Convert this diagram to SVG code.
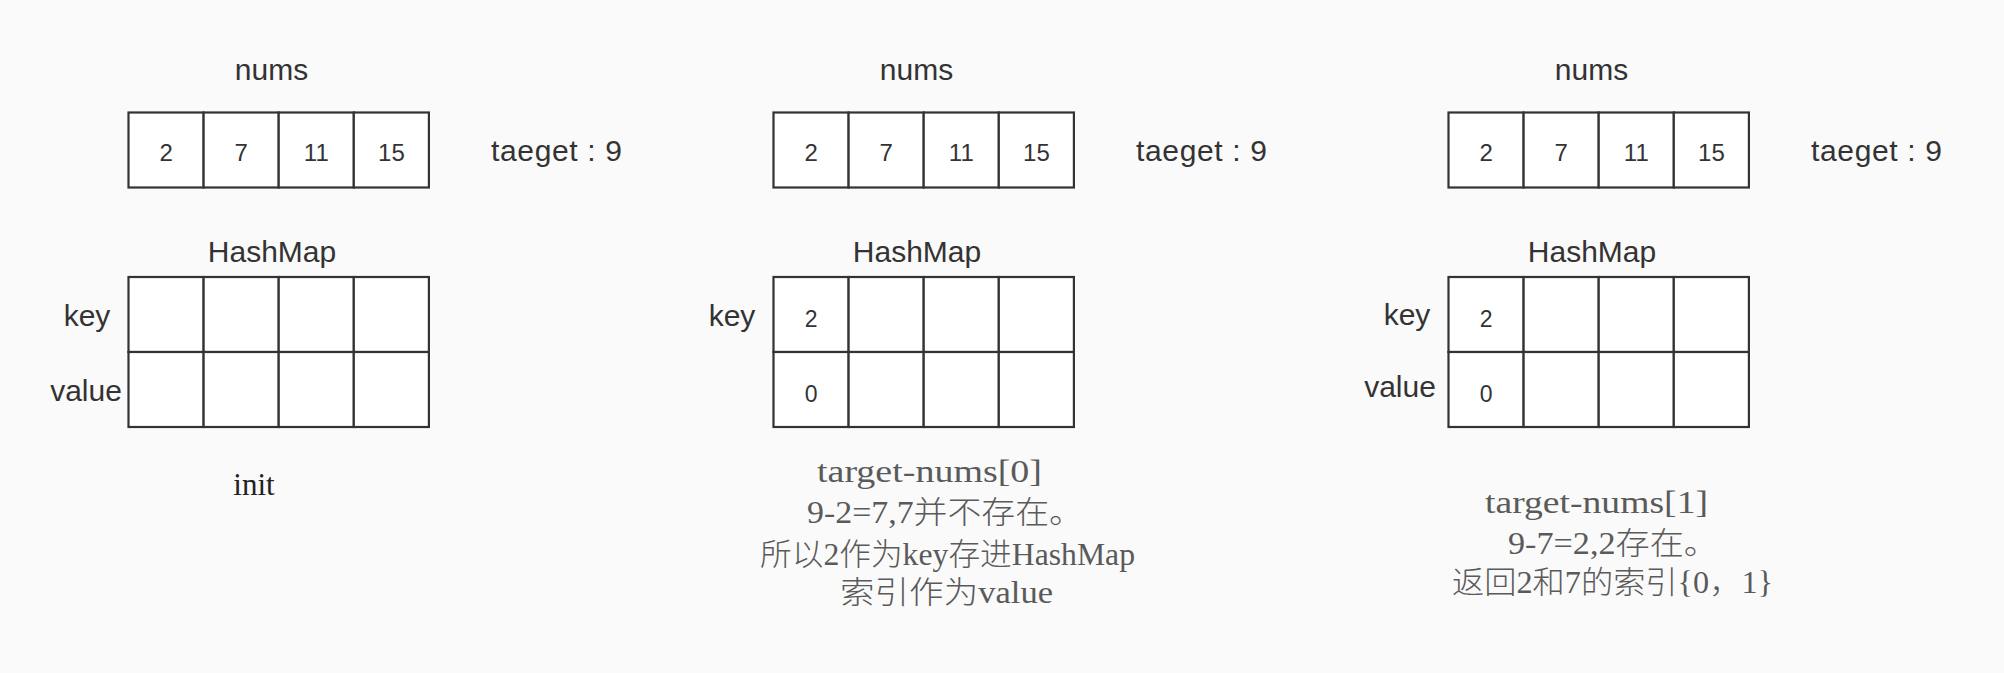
<svg xmlns="http://www.w3.org/2000/svg" width="2004" height="673" viewBox="0 0 2004 673">
<style>
.bg{fill:#fafafa}
.cell{fill:#ffffff;stroke:#333333;stroke-width:2.2}
.lbl{font-family:"Liberation Sans",Arial,sans-serif;font-size:30px;fill:#333333;text-anchor:middle}
.tg{font-family:"Liberation Sans",Arial,sans-serif;font-size:30px;fill:#333333}
.num{font-family:"Liberation Sans",Arial,sans-serif;font-size:24px;fill:#333333;text-anchor:middle}
.hm{font-family:"Liberation Sans",Arial,sans-serif;font-size:23px;fill:#333333;text-anchor:middle}
.note{font-family:"Liberation Serif","Noto Sans CJK SC",serif;font-size:31px;font-weight:300;fill:#5a5a5a}
.init{font-family:"Liberation Serif","Times New Roman",serif;font-size:31px;fill:#222222;text-anchor:middle}
</style>
<defs>
<g id="arr">
<rect class="cell" x="0" y="0" width="75.1" height="75"/>
<rect class="cell" x="75.1" y="0" width="75.1" height="75"/>
<rect class="cell" x="150.2" y="0" width="75.1" height="75"/>
<rect class="cell" x="225.3" y="0" width="75.1" height="75"/>
</g>
<g id="map">
<use href="#arr"/>
<use href="#arr" y="75"/>
</g>
</defs>
<rect class="bg" x="0" y="0" width="2004" height="673"/>
<g id="connectors"/>

<g id="panel-init">
<text class="lbl" x="271.5" y="80">nums</text>
<g id="nums-1" transform="translate(128.5,112.5)">
<use href="#arr"/>
<text class="num" x="37.6" y="48.5">2</text>
<text class="num" x="112.7" y="48.5">7</text>
<text class="num" x="187.8" y="48.5">11</text>
<text class="num" x="262.9" y="48.5">15</text>
</g>
<text class="tg" x="491" y="161" textLength="131" lengthAdjust="spacing">taeget : 9</text>
<text class="lbl" x="272" y="262">HashMap</text>
<g id="map-1" transform="translate(128.5,277)">
<use href="#map"/>
</g>
<text class="lbl" x="87" y="326">key</text>
<text class="lbl" x="86" y="401">value</text>
<text class="init" x="254" y="495">init</text>
</g>

<g id="panel-step1">
<text class="lbl" x="916.5" y="80">nums</text>
<g id="nums-2" transform="translate(773.5,112.5)">
<use href="#arr"/>
<text class="num" x="37.6" y="48.5">2</text>
<text class="num" x="112.7" y="48.5">7</text>
<text class="num" x="187.8" y="48.5">11</text>
<text class="num" x="262.9" y="48.5">15</text>
</g>
<text class="tg" x="1136" y="161" textLength="131" lengthAdjust="spacing">taeget : 9</text>
<text class="lbl" x="917" y="262">HashMap</text>
<g id="map-2" transform="translate(773.5,277)">
<use href="#map"/>
<text class="hm" x="37.6" y="50">2</text>
<text class="hm" x="37.6" y="125">0</text>
</g>
<text class="lbl" x="732" y="326">key</text>
<text class="note" x="817" y="482" textLength="225" lengthAdjust="spacingAndGlyphs">target-nums[0]</text>
<text class="note" x="807" y="523" textLength="276" lengthAdjust="spacingAndGlyphs">9-2=7,7并不存在。</text>
<text class="note" x="760" y="565" textLength="375" lengthAdjust="spacingAndGlyphs">所以2作为key存进HashMap</text>
<text class="note" x="840" y="603" textLength="213" lengthAdjust="spacingAndGlyphs">索引作为value</text>
</g>

<g id="panel-step2">
<text class="lbl" x="1591.5" y="80">nums</text>
<g id="nums-3" transform="translate(1448.5,112.5)">
<use href="#arr"/>
<text class="num" x="37.6" y="48.5">2</text>
<text class="num" x="112.7" y="48.5">7</text>
<text class="num" x="187.8" y="48.5">11</text>
<text class="num" x="262.9" y="48.5">15</text>
</g>
<text class="tg" x="1811" y="161" textLength="131" lengthAdjust="spacing">taeget : 9</text>
<text class="lbl" x="1592" y="262">HashMap</text>
<g id="map-3" transform="translate(1448.5,277)">
<use href="#map"/>
<text class="hm" x="37.6" y="50">2</text>
<text class="hm" x="37.6" y="125">0</text>
</g>
<text class="lbl" x="1407" y="325">key</text>
<text class="lbl" x="1400" y="397">value</text>
<text class="note" x="1485" y="513" textLength="223" lengthAdjust="spacingAndGlyphs">target-nums[1]</text>
<text class="note" x="1508" y="554" textLength="210" lengthAdjust="spacingAndGlyphs">9-7=2,2存在。</text>
<text class="note" x="1452" y="593" textLength="321" lengthAdjust="spacingAndGlyphs">返回2和7的索引{0，1}</text>
</g>
</svg>
